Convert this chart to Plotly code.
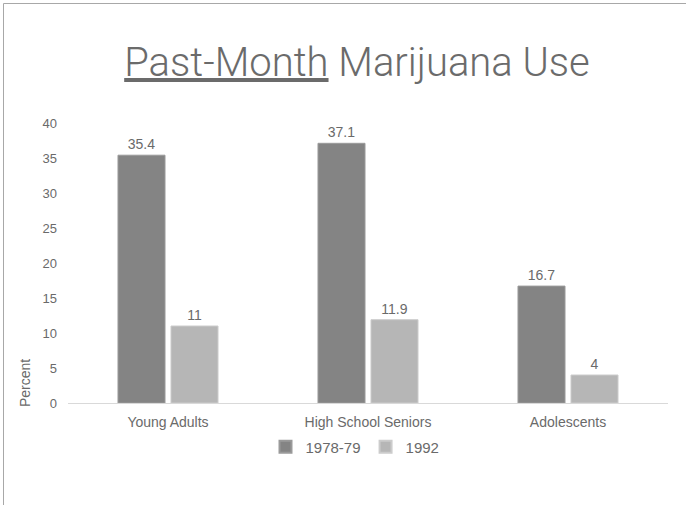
import plotly.graph_objects as go

categories = ["Young Adults", "High School Seniors", "Adolescents"]
series_names = ["1978-79", "1992"]
values_1978 = [35.4, 37.1, 16.7]
values_1992 = [11, 11.9, 4]
y_ticks = [0, 5, 10, 15, 20, 25, 30, 35, 40]

W, H = 686, 505
L, R, T, B = 68, 18, 123, 102
pw, ph = W - L - R, H - T - B

def px_x(x):
    return (x - L) / pw

def px_y(y):
    return (H - B - y) / ph

FONT = "Liberation Sans, Arial, sans-serif"
TXT = "#6a6a6a"

fig = go.Figure()
fig.add_trace(go.Bar(
    x=categories, y=values_1978, name=series_names[0],
    marker=dict(color="#848484", line=dict(color="#9a9a9a", width=1)),
    text=[f"{v:g}" for v in values_1978], textposition="outside",
    textfont=dict(family=FONT, size=14, color=TXT), cliponaxis=False,
))
fig.add_trace(go.Bar(
    x=categories, y=values_1992, name=series_names[1],
    marker=dict(color="#b6b6b6", line=dict(color="#cccccc", width=1)),
    text=[f"{v:g}" for v in values_1992], textposition="outside",
    textfont=dict(family=FONT, size=14, color=TXT), cliponaxis=False,
))

fig.update_layout(
    width=W, height=H,
    margin=dict(l=L, r=R, t=T, b=B, pad=0),
    paper_bgcolor="white", plot_bgcolor="white",
    barmode="group", bargap=0.47, bargroupgap=0.113,
    title=dict(
        text="<u>Past-Month</u> Marijuana Use",
        font=dict(family="Roboto, Liberation Sans, sans-serif", size=40,
                  color="#6b6b6b", weight=300),
        xref="container", x=357 / W, xanchor="center",
        yref="container", y=1 - 62 / H, yanchor="middle",
    ),
    font=dict(family=FONT, color=TXT),
    showlegend=True,
    legend=dict(
        orientation="h", x=px_x(355), xanchor="center",
        y=px_y(447), yanchor="middle",
        font=dict(family=FONT, size=15, color=TXT),
        itemsizing="constant", itemwidth=30, traceorder="normal",
        tracegroupgap=0,
    ),
    xaxis=dict(
        showgrid=False, showline=True, linecolor="#d9d9d9", linewidth=1,
        ticks="", tickfont=dict(family=FONT, size=14, color=TXT),
        ticklabelstandoff=6,
    ),
    yaxis=dict(
        range=[0, 40], tickvals=y_ticks, showgrid=False, zeroline=False,
        showline=False, ticks="", tickfont=dict(family=FONT, size=13, color=TXT),
        ticklabelstandoff=10,
    ),
    annotations=[dict(
        text="Percent", textangle=-90, showarrow=False,
        xref="paper", yref="paper", x=px_x(25), y=px_y(383),
        xanchor="center", yanchor="middle",
        font=dict(family=FONT, size=14, color=TXT),
    )],
    shapes=[
        dict(type="line", xref="paper", yref="paper",
             x0=px_x(3.5), x1=px_x(700), y0=px_y(3.5), y1=px_y(3.5),
             line=dict(color="#a8a8a8", width=1)),
        dict(type="line", xref="paper", yref="paper",
             x0=px_x(3.5), x1=px_x(3.5), y0=px_y(3.5), y1=px_y(520),
             line=dict(color="#a8a8a8", width=1)),
    ],
)

fig.write_html("out.html")
